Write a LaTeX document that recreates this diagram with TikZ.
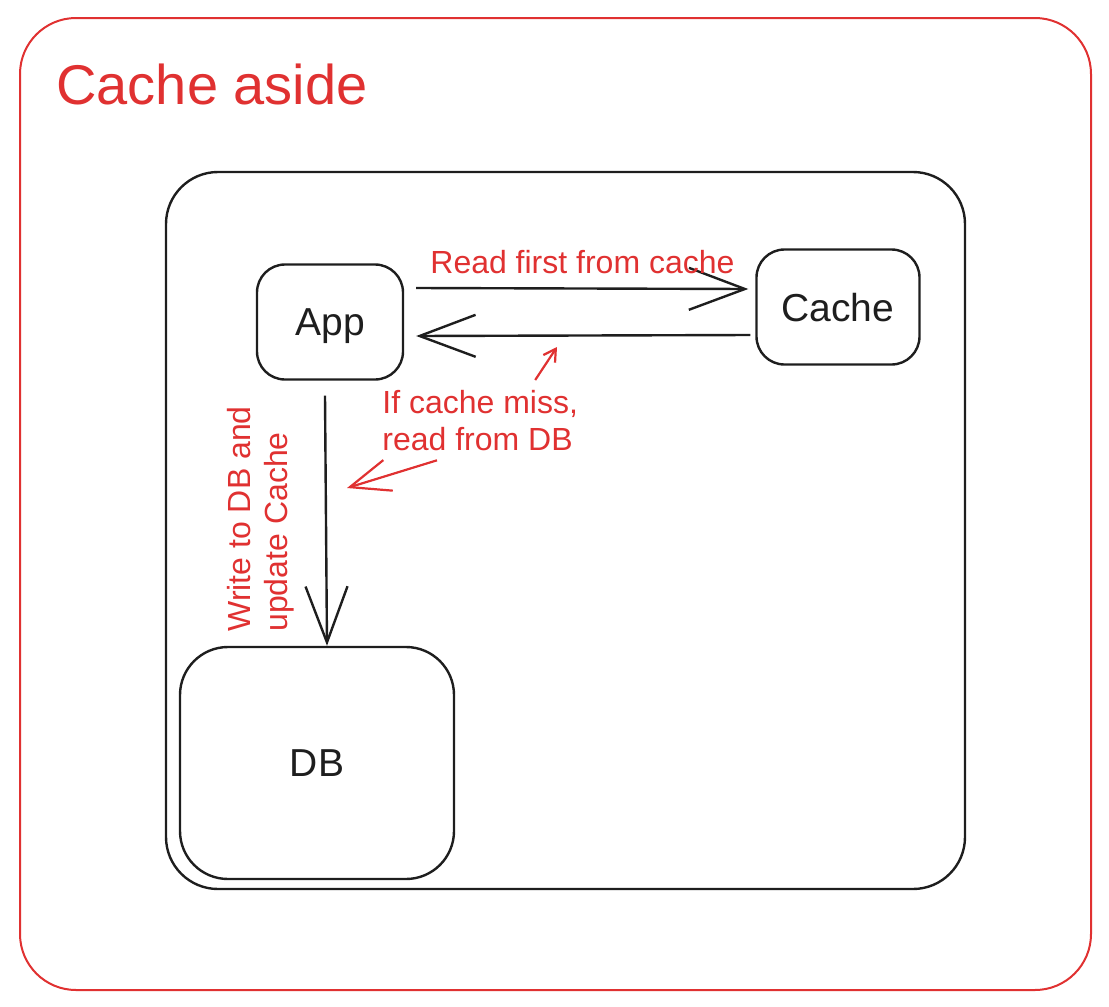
\documentclass[tikz,border=0pt]{standalone}
\usepackage{fontspec}
\setmainfont{Liberation Sans}
\usetikzlibrary{arrows.meta}
\definecolor{exred}{HTML}{E03131}
\definecolor{exink}{HTML}{1E1E1E}

\begin{document}
\begin{tikzpicture}[x=0.5pt, y=-0.5pt,
  box/.style={draw=exink, line width=1.2pt, rounded corners=14pt, text=exink, text depth=0pt, font=\fontsize{19.5}{23}\selectfont},
  flow/.style={draw=exink, line width=1.2pt, -{Straight Barb[length=28pt,width=21pt]}},
  note/.style={text=exred, inner sep=0pt, align=left, font=\fontsize{16}{18.5}\selectfont},
  hint/.style={draw=exred, line width=1.1pt}]
  \useasboundingbox (0,0) rectangle (1109,1007);

  % frames
  \draw[exred, line width=1pt, rounded corners=28pt] (20,18) rectangle (1091,990);
  \node[anchor=base west, inner sep=0pt, text=exred, font=\fontsize{28}{33}\selectfont] (title) at (56,104) {Cache aside};
  \draw[exink, line width=1.2pt, rounded corners=26pt] (166,172) rectangle (965,889);

  % boxes
  \node[box, minimum width=73pt, minimum height=57.5pt] (app) at (330,322) {App};
  \node[box, minimum width=81.5pt, minimum height=57.5pt] (cache) at (838,307) {Cache};
  \node[box, rounded corners=24pt, minimum width=137pt, minimum height=116pt] (db) at (317,763) {DB};

  % arrows
  \draw[flow] ([xshift=6pt,yshift=17pt]app.east) -- ([xshift=-3.5pt,yshift=9pt]cache.west);
  \draw[flow] ([xshift=-2.5pt,yshift=-14pt]cache.west) -- ([xshift=6pt,yshift=-7pt]app.east);
  \draw[flow] ([xshift=-2.5pt,yshift=-7.5pt]app.south) -- ([xshift=5pt]db.north);

  % labels
  \node[note, anchor=base west] (readfirst) at (430,273) {Read first from cache};
  \node[note, anchor=north west] (miss) at (382,390) {If cache miss,\\read from DB};
  \node[note, rotate=90, anchor=north west] (write) at (227,632) {Write to DB and\\update Cache};

  \coordinate (misshit) at (557,347);
  \coordinate (writehit) at (347,488);
  \draw[hint, -{Straight Barb[length=6pt,width=7pt]}] ([xshift=27.5pt,yshift=5pt]miss.north) -- (misshit);
  \draw[hint, -{Straight Barb[length=20pt,width=16pt]}] ([xshift=27.5pt,yshift=-4.5pt]miss.south west) -- (writehit);
\end{tikzpicture}
\end{document}
